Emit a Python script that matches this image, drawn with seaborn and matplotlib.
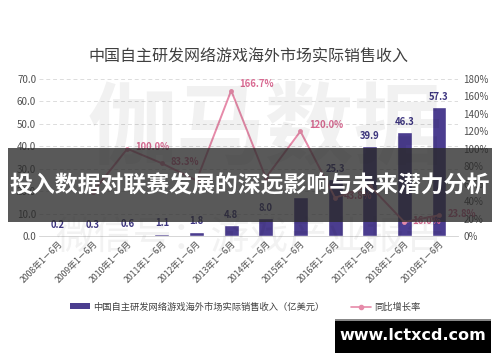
import numpy as np
import pandas as pd
import matplotlib
matplotlib.use("Agg")
import matplotlib.pyplot as plt
import seaborn as sns
from matplotlib.lines import Line2D
from matplotlib.patches import Patch, Rectangle

sns.set_theme(style="white")
plt.rcParams['font.family'] = ['Noto Sans CJK SC', 'DejaVu Sans']

periods = ["2008年1－6月", "2009年1－6月", "2010年1－6月", "2011年1－6月",
           "2012年1－6月", "2013年1－6月", "2014年1－6月", "2015年1－6月",
           "2016年1－6月", "2017年1－6月", "2018年1－6月", "2019年1－6月"]
revenue = [0.2, 0.3, 0.6, 1.1, 1.8, 4.8, 8.0, 17.6, 25.3, 39.9, 46.3, 57.3]
growth = [np.nan, 50.0, 100.0, 83.3, 63.6, 166.7, 66.7, 120.0, 43.8, 57.7, 16.0, 23.8]
shown_rev_labels = [True] * 7 + [False, True, True, True, True]
shown_growth_labels = [False, False, True, True, False, True, False, True, True, False, True, True]

title = "中国自主研发网络游戏海外市场实际销售收入"
bar_legend = "中国自主研发网络游戏海外市场实际销售收入（亿美元）"
line_legend = "同比增长率"
banner = "投入数据对联赛发展的深远影响与未来潜力分析"
site = "www.lctxcd.com"

bar_color = "#4b3d8f"
line_color = "#e68aa9"

df = pd.DataFrame({"period": periods, "revenue": revenue, "growth": growth})
df["idx"] = np.arange(len(df))

fig = plt.figure(figsize=(5, 3.62), dpi=100)
ax = fig.add_axes([0.078, 0.348, 0.838, 0.434])

# watermark
fig.text(0.53, 0.64, "伽马数据", fontsize=64, color="#000000", alpha=0.055,
         ha="center", va="center", fontweight="bold")
fig.text(0.5, 0.345, "微信号：游戏产业报告", fontsize=28, color="#000000", alpha=0.05,
         ha="center", va="center")

sns.barplot(data=df, x="period", y="revenue", color=bar_color, width=0.43,
            saturation=1, ax=ax, zorder=3)
ax.set_ylim(0, 70)
ax.set_xlim(-0.55, len(periods) - 0.45)
ax.set_yticks(np.arange(0, 71, 10))
ax.set_yticklabels([f"{v:.1f}" for v in np.arange(0, 71, 10)], fontsize=7, color="#505050")
ax.yaxis.grid(True, linestyle=(0, (4, 3)), color="#dcdcdc", linewidth=0.7, zorder=0)
ax.set_xlabel("")
ax.set_ylabel("")
ax.set_xticks(range(len(periods)))
ax.set_xticklabels(periods, rotation=45, ha="right", rotation_mode="anchor",
                   fontsize=6.3, color="#505050")
ax.tick_params(axis="both", length=0, pad=2)
for s in ax.spines.values():
    s.set_visible(False)
ax.spines["bottom"].set_visible(True)
ax.spines["bottom"].set_color("#d0d0d0")
ax.spines["bottom"].set_linewidth(0.6)

for i, (v, show) in enumerate(zip(revenue, shown_rev_labels)):
    if show:
        ax.annotate(f"{v:.1f}", (i, v), xytext=(0, 4), textcoords="offset points",
                    ha="center", va="bottom", fontsize=6.8, color="#3d3580",
                    fontweight="bold")

ax2 = ax.twinx()
sns.lineplot(data=df.dropna(), x="idx", y="growth", color=line_color, linewidth=1.4,
             marker="o", markersize=3.5, markeredgewidth=0, ax=ax2, zorder=4)
ax2.set_ylim(0, 180)
ax2.set_xlim(ax.get_xlim())
ax2.set_yticks(np.arange(0, 181, 20))
ax2.set_yticklabels([f"{v}%" for v in range(0, 181, 20)], fontsize=7, color="#505050")
ax2.tick_params(axis="both", length=0, pad=4)
ax2.set_ylabel("")
ax2.set_xlabel("")
for s in ax2.spines.values():
    s.set_visible(False)

for i, (g, show) in enumerate(zip(growth, shown_growth_labels)):
    if show:
        ax2.annotate(f"{g:.1f}%", (i, g), xytext=(6, 1), textcoords="offset points",
                     ha="left", va="bottom" if g > 100 else "center", fontsize=6.8,
                     color="#d96a92", fontweight="bold")

fig.text(0.496, 0.842, title, fontsize=11.5, color="#404040", ha="center", va="center")

handles = [Patch(facecolor=bar_color, edgecolor="none"),
           Line2D([0], [0], color=line_color, marker="o", markersize=3, linewidth=1.2)]
fig.legend(handles, [bar_legend, line_legend], loc="center", bbox_to_anchor=(0.49, 0.152),
           ncol=2, frameon=False, fontsize=6.7, columnspacing=2.8, handlelength=2.2,
           handletextpad=0.3, handleheight=0.6, labelcolor="#404040")

# banner overlay
fig.patches.append(Rectangle((0.016, 1 - 222 / 362), 0.968, 74 / 362, transform=fig.transFigure,
                             facecolor="#2a2a2a", alpha=0.78, edgecolor="none", zorder=10))
fig.text(0.5, 1 - 186 / 362, banner, fontsize=16.5, color="white", fontweight="bold",
         ha="center", va="center", zorder=11)

# site box
fig.patches.append(Rectangle((0.67, 1 - 353 / 362), 0.312, 34 / 362, transform=fig.transFigure,
                             facecolor="#000000", edgecolor="none", zorder=10))
fig.patches.append(Rectangle((0.67, 1 - 321 / 362), 0.312, 2 / 362, transform=fig.transFigure,
                             facecolor="#888888", edgecolor="none", zorder=11))
fig.text(0.826, 1 - 336 / 362, site, fontsize=11.5, color="white", fontweight="bold",
         ha="center", va="center", family="DejaVu Sans", zorder=12)

fig.savefig("out.png", dpi=100)
